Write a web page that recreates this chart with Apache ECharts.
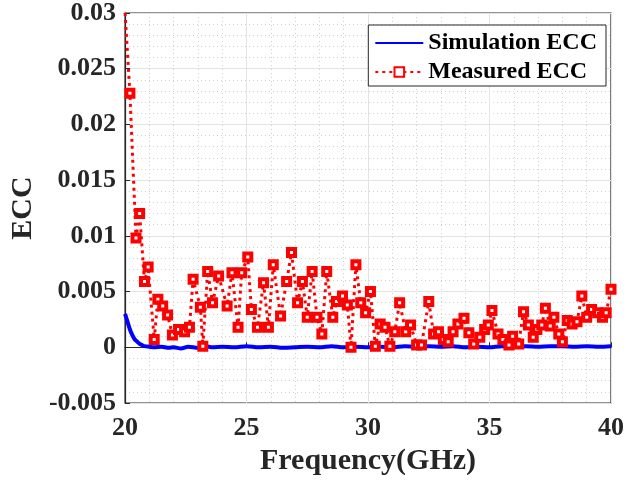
<!DOCTYPE html>
<html>
<head>
<meta charset="utf-8">
<script src="https://cdn.jsdelivr.net/npm/echarts@6/dist/echarts.min.js"></script>
<style>html,body{margin:0;padding:0;background:#fff}#c{width:627px;height:481px}</style>
</head>
<body>
<div id="c"></div>
<script>
// Simulation ECC
const simFreq = [20,20.1,20.2,20.3,20.4,20.5,20.6,20.7,20.8,21,21.2,21.5,21.8,22,22.3,22.6,23,23.3,23.6,24,24.5,25,25.5,26,26.5,27,27.5,28,28.5,29,29.5,30,30.5,31,31.5,32,32.5,33,33.5,34,34.5,35,35.5,36,36.5,37,37.5,38,38.5,39,39.5,40];
const simECC  = [0.0030,0.0023,0.0016,0.0011,0.0007,0.0005,0.0003,0.0002,0.0001,0.00005,0.0,0.00005,-0.00005,0.0,-0.0001,0.00005,-0.00005,0.0001,0.0,0.00005,0.0,0.0001,0.0,0.00005,-0.00005,0.0,0.00005,0.0,0.0001,0.0,0.00005,0.0,0.00005,0.0,0.0001,0.00005,0.0001,0.00005,0.0001,0.0,0.00005,0.0,0.0001,0.00005,0.0001,0.00005,0.0001,0.0001,0.00005,0.0001,0.00005,0.0001];

// Measured ECC
const measFreq = [20,20.2,20.45,20.6,20.8,20.95,21.2,21.35,21.55,21.75,21.95,22.2,22.45,22.65,22.8,23.1,23.2,23.4,23.6,23.85,24.2,24.4,24.65,24.8,25.05,25.2,25.45,25.7,25.9,26.1,26.4,26.65,26.85,27.1,27.3,27.5,27.7,27.9,28.1,28.3,28.55,28.7,28.95,29.15,29.3,29.5,29.7,29.9,30.1,30.3,30.5,30.7,30.9,31.1,31.3,31.55,31.75,32.0,32.2,32.5,32.7,32.9,33.1,33.3,33.5,33.7,33.95,34.15,34.35,34.6,34.8,34.95,35.1,35.35,35.55,35.8,35.95,36.2,36.4,36.6,36.8,36.95,37.15,37.3,37.5,37.65,37.85,38.0,38.2,38.4,38.6,38.8,39.0,39.2,39.45,39.65,39.8,40.0];
const measECC  = [0.0300,0.0228,0.0098,0.0120,0.0059,0.0072,0.0007,0.0043,0.0037,0.0029,0.0011,0.0016,0.0014,0.0018,0.0061,0.0036,0.0001,0.0068,0.0040,0.0064,0.0037,0.0067,0.0018,0.0067,0.0081,0.0034,0.0018,0.0058,0.0018,0.0074,0.0028,0.0059,0.0085,0.0040,0.0059,0.0027,0.0068,0.0027,0.0012,0.0068,0.0027,0.0041,0.0046,0.0038,0.0000,0.0074,0.0040,0.0031,0.0050,0.0001,0.0021,0.0018,0.0001,0.0014,0.0040,0.0014,0.0020,0.0002,0.0002,0.0041,0.0012,0.0014,0.0007,0.0005,0.0014,0.0021,0.0026,0.0013,0.0003,0.0009,0.0016,0.0020,0.0033,0.0012,0.0007,0.0002,0.0010,0.0003,0.0032,0.0020,0.0009,0.0016,0.0020,0.0035,0.0019,0.0027,0.0012,0.0005,0.0024,0.0021,0.0023,0.0046,0.0027,0.0034,0.0031,0.0027,0.0031,0.0052];
const noMarkerIdx = [0];

const xTicks = {min: 20, max: 40, interval: 5};
const yTicks = {min: -0.005, max: 0.03, interval: 0.005};

const FONT = "'Liberation Serif','Times New Roman',serif";
const chart = echarts.init(document.getElementById('c'), null, {renderer: 'canvas'});

const simData = simFreq.map((f, i) => [f, simECC[i]]);
const measData = measFreq.map((f, i) => noMarkerIdx.includes(i) ? {value: [f, measECC[i]], symbol: 'none'} : [f, measECC[i]]);

chart.setOption({
  animation: false,
  backgroundColor: '#fff',
  grid: {left: 124, right: 13, top: 13, bottom: 77, show: true, borderColor: '#262626', borderWidth: 1.2, backgroundColor: '#fff'},
  xAxis: {
    type: 'value', min: xTicks.min, max: xTicks.max, interval: xTicks.interval,
    name: 'Frequency(GHz)', nameLocation: 'middle', nameGap: 43,
    nameTextStyle: {fontFamily: FONT, fontWeight: 'bold', fontSize: 30, color: '#262626'},
    axisLine: {show: true, lineStyle: {color: '#262626', width: 1.2}},
    axisTick: {show: true, inside: true, length: 5, lineStyle: {color: '#262626'}},
    axisLabel: {fontFamily: FONT, fontWeight: 'bold', fontSize: 26, color: '#262626', margin: 12},
    splitLine: {show: true, lineStyle: {color: '#e3e3e3', width: 1}},
    minorTick: {show: false, splitNumber: 5},
    minorSplitLine: {show: true, lineStyle: {color: '#d0d0d0', width: 1, type: [1, 3]}}
  },
  yAxis: {
    type: 'value', min: yTicks.min, max: yTicks.max, interval: yTicks.interval,
    name: 'ECC', nameLocation: 'middle', nameGap: 86,
    nameTextStyle: {fontFamily: FONT, fontWeight: 'bold', fontSize: 30, color: '#262626'},
    axisLine: {show: true, lineStyle: {color: '#262626', width: 1.2}},
    axisTick: {show: true, inside: true, length: 5, lineStyle: {color: '#262626'}},
    axisLabel: {fontFamily: FONT, fontWeight: 'bold', fontSize: 26, color: '#262626', margin: 9,
      formatter: v => String(+v.toFixed(3))},
    splitLine: {show: true, lineStyle: {color: '#e3e3e3', width: 1}},
    minorTick: {show: false, splitNumber: 5},
    minorSplitLine: {show: true, lineStyle: {color: '#d0d0d0', width: 1, type: [1, 3]}}
  },
  legend: {
    orient: 'vertical', right: 21, top: 25,
    backgroundColor: '#fff', borderColor: '#262626', borderWidth: 1,
    padding: [6, 9, 2, 6], itemGap: 5, itemWidth: 48, itemHeight: 12,
    textStyle: {fontFamily: FONT, fontWeight: 'bold', fontSize: 24, lineHeight: 24, color: '#000'},
    data: [
      {name: 'Simulation ECC', itemStyle: {opacity: 0}},
      {name: 'Measured ECC'}
    ]
  },
  series: [
    {name: 'Simulation ECC', type: 'line', data: simData, symbol: 'none', smooth: 0.3,
      lineStyle: {color: '#0000ff', width: 4}, itemStyle: {color: '#0000ff'}, z: 2},
    {name: 'Measured ECC', type: 'line', data: measData, symbol: 'rect', symbolSize: 7, showSymbol: true,
      lineStyle: {color: '#ff0000', width: 3, type: [3, 4], cap: 'butt'},
      itemStyle: {color: '#fff', borderColor: '#ff0000', borderWidth: 4}, z: 3}
  ]
});
</script>
</body>
</html>
